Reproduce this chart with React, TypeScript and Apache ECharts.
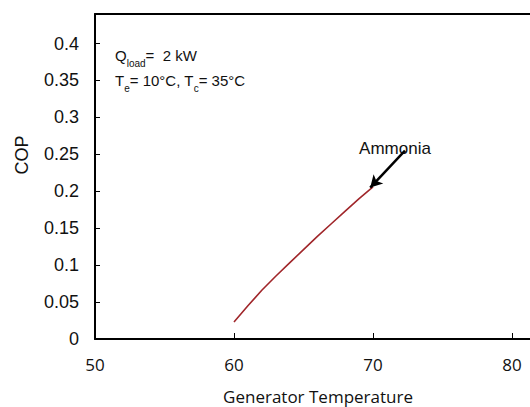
import React, { useEffect, useRef } from "react";
import * as echarts from "echarts";

const temperatures = [60, 61, 62, 63, 64, 65, 66, 67, 68, 69, 70];
const copAmmonia = [0.023, 0.045, 0.066, 0.085, 0.103, 0.121, 0.139, 0.156, 0.173, 0.19, 0.206];
const xTicks = { min: 50, max: 90, interval: 10 };
const yTicks = { min: 0, max: 0.44, interval: 0.05 };
const arrowFrom = [72.3, 0.255];
const arrowTo = [69.8, 0.205];

const FONT = "'Liberation Sans', Arial, sans-serif";
const FONT2 = "'Open Sans', sans-serif";

export default function App() {
  const ref = useRef<HTMLDivElement>(null);
  useEffect(() => {
    if (!ref.current) return;
    const chart = echarts.init(ref.current, null, { renderer: "svg" });
    const axisLineStyle = { color: "#000", width: 2 };
    chart.setOption({
      animation: false,
      backgroundColor: "#fff",
      grid: { left: 95, top: 14, bottom: 68, width: 556, outerBoundsMode: "none", containLabel: false },
      xAxis: [
        {
          type: "value",
          min: xTicks.min,
          max: xTicks.max,
          interval: xTicks.interval,
          axisLine: { show: true, onZero: false, lineStyle: axisLineStyle },
          axisTick: { show: true, inside: true, length: 6, lineStyle: { color: "#000", width: 1 } },
          axisLabel: { color: "#111", fontFamily: FONT2, fontSize: 17, margin: 17, showMaxLabel: false },
          splitLine: { show: false },
        },
        {
          type: "value",
          position: "top",
          min: xTicks.min,
          max: xTicks.max,
          axisLine: { show: true, onZero: false, lineStyle: axisLineStyle },
          axisTick: { show: false },
          axisLabel: { show: false },
          splitLine: { show: false },
        },
      ],
      yAxis: {
        type: "value",
        min: yTicks.min,
        max: yTicks.max,
        interval: yTicks.interval,
        axisLine: { show: true, onZero: false, lineStyle: axisLineStyle },
        axisTick: { show: true, inside: true, length: 5, lineStyle: { color: "#000", width: 1 } },
        axisLabel: { color: "#111", fontFamily: FONT, fontSize: 18, margin: 16, showMaxLabel: false },
        splitLine: { show: false },
      },
      series: [
        {
          type: "line",
          name: "Ammonia",
          data: temperatures.map((t, i) => [t, copAmmonia[i]]),
          showSymbol: false,
          smooth: false,
          lineStyle: { color: "#a0262a", width: 1.6 },
          markLine: {
            silent: true,
            symbol: ["none", "arrow"],
            symbolSize: [10, 12],
            label: { show: false },
            lineStyle: { color: "#000", width: 2.5, type: "solid" },
            data: [[{ coord: arrowFrom }, { coord: arrowTo }]],
          },
        },
      ],
      graphic: [
        {
          type: "text",
          x: 115,
          y: 43,
          style: {
            text: "Q{sub|load}=  2 kW\nT{sub|e}= 10°C, T{sub|c}= 35°C",
            font: `15px ${FONT}`,
            fill: "#111",
            lineHeight: 25,
            rich: {
              sub: { fontSize: 10, fontFamily: FONT, fill: "#111", verticalAlign: "bottom", lineHeight: 22 },
            },
          },
        },
        {
          type: "text",
          x: 395,
          y: 148,
          style: {
            text: "Ammonia",
            font: `17px ${FONT}`,
            fill: "#111",
            textAlign: "center",
            textVerticalAlign: "middle",
          },
        },
        {
          type: "text",
          x: 22,
          y: 155,
          rotation: Math.PI / 2,
          style: {
            text: "COP",
            font: `18px ${FONT}`,
            fill: "#111",
            textAlign: "center",
            textVerticalAlign: "middle",
          },
        },
        {
          type: "text",
          x: 318,
          y: 396,
          style: {
            text: "Generator Temperature",
            font: `17px ${FONT2}`,
            fill: "#111",
            textAlign: "center",
            textVerticalAlign: "middle",
          },
        },
      ],
    });
    return () => chart.dispose();
  }, []);
  return <div ref={ref} style={{ position: "fixed", left: 0, top: 0, width: 530, height: 407 }} />;
}
